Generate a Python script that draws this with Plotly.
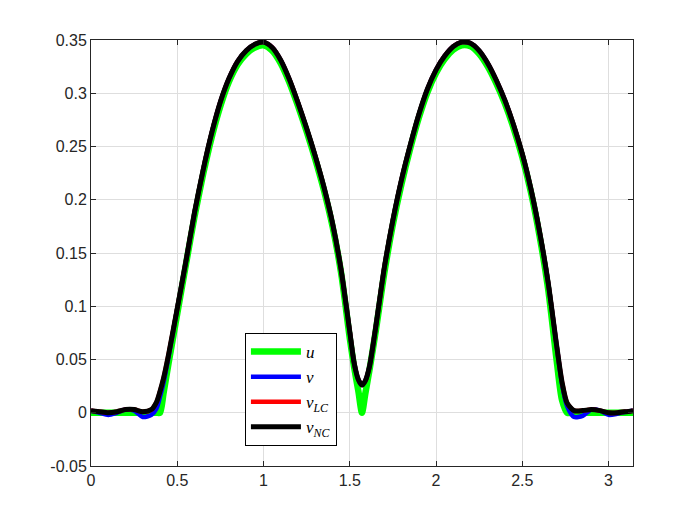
import plotly.graph_objects as go

# sample positions along x (0 .. pi)
x = [0.00, 0.05, 0.10, 0.15, 0.20, 0.25, 0.30, 0.35, 0.38, 0.40,
     0.42, 0.45, 0.50, 0.55, 0.60, 0.65, 0.70, 0.75, 0.80, 0.85,
     0.90, 0.95, 1.00, 1.05, 1.10, 1.15, 1.20, 1.25, 1.30, 1.35,
     1.40, 1.45, 1.50, 1.525, 1.55, 1.5708, 1.59, 1.615, 1.65, 1.70,
     1.75, 1.80, 1.85, 1.90, 1.95, 2.00, 2.05, 2.10, 2.15, 2.20,
     2.25, 2.30, 2.35, 2.40, 2.45, 2.50, 2.55, 2.60, 2.65, 2.70,
     2.73, 2.76, 2.80, 2.85, 2.90, 2.95, 3.00, 3.05, 3.10, 3.1416]

u = [0.000, 0.000, 0.000, 0.000, 0.000, 0.000, 0.000, 0.000, 0.000, 0.000,
     0.018, 0.047, 0.093, 0.139, 0.184, 0.224, 0.259, 0.288, 0.311, 0.327,
     0.337, 0.343, 0.345, 0.340, 0.328, 0.310, 0.288, 0.264, 0.238, 0.209,
     0.175, 0.131, 0.070, 0.043, 0.020, 0.000, 0.018, 0.041, 0.076, 0.131,
     0.177, 0.215, 0.248, 0.277, 0.301, 0.319, 0.332, 0.341, 0.345, 0.344,
     0.337, 0.325, 0.309, 0.290, 0.267, 0.240, 0.207, 0.166, 0.116, 0.048,
     0.012, 0.000, 0.000, 0.000, 0.000, 0.000, 0.000, 0.000, 0.000, 0.000]

v = [0.002, 0.000, -0.002, 0.000, 0.003, 0.002, -0.004, -0.002, 0.004, 0.015,
     0.028, 0.053, 0.098, 0.142, 0.188, 0.228, 0.263, 0.292, 0.314, 0.330,
     0.340, 0.346, 0.348, 0.343, 0.331, 0.313, 0.291, 0.267, 0.241, 0.212,
     0.178, 0.134, 0.076, 0.047, 0.031, 0.026, 0.030, 0.044, 0.080, 0.136,
     0.181, 0.219, 0.251, 0.280, 0.304, 0.322, 0.335, 0.344, 0.348, 0.347,
     0.340, 0.328, 0.312, 0.293, 0.270, 0.243, 0.210, 0.170, 0.122, 0.062,
     0.027, 0.006, -0.004, -0.003, 0.003, 0.002, -0.002, -0.001, 0.001, 0.002]

v_nc = [0.002, 0.001, 0.000, 0.001, 0.003, 0.003, 0.001, 0.003, 0.010, 0.020,
        0.032, 0.055, 0.098, 0.142, 0.188, 0.228, 0.263, 0.292, 0.314, 0.330,
        0.340, 0.346, 0.348, 0.343, 0.331, 0.313, 0.291, 0.267, 0.241, 0.212,
        0.178, 0.134, 0.076, 0.047, 0.031, 0.026, 0.030, 0.044, 0.080, 0.136,
        0.181, 0.219, 0.251, 0.280, 0.304, 0.322, 0.335, 0.344, 0.348, 0.347,
        0.340, 0.328, 0.312, 0.293, 0.270, 0.243, 0.210, 0.170, 0.122, 0.062,
        0.029, 0.009, 0.002, 0.002, 0.003, 0.002, 0.000, 0.000, 0.001, 0.002]

# the red curve sits completely under the black one in the picture
v_lc = list(v_nc)

x_ticks = [0, 0.5, 1, 1.5, 2, 2.5, 3]
x_ticktext = ['0', '0.5', '1', '1.5', '2', '2.5', '3']
y_ticks = [-0.05, 0, 0.05, 0.1, 0.15, 0.2, 0.25, 0.3, 0.35]
y_ticktext = ['-0.05', '0', '0.05', '0.1', '0.15', '0.2', '0.25', '0.3', '0.35']

series = [
    (u, '<i>u</i>', '#00ff00', 6.5),
    (v, '<i>v</i>', '#0000ff', 4.5),
    (v_lc, '<i>v</i><sub><i>LC</i></sub>', '#ff0000', 4.5),
    (v_nc, '<i>v</i><sub><i>NC</i></sub>', '#000000', 5),
]

fig = go.Figure()
for y, name, color, w in series:
    fig.add_trace(go.Scatter(x=x, y=y, mode='lines', name=name,
                             line=dict(color=color, width=w, shape='spline', smoothing=0.7)))

axis_style = dict(showgrid=True, gridcolor='#dedede', gridwidth=1,
                  showline=True, linecolor='#262626', linewidth=1, mirror='ticks',
                  ticks='inside', ticklen=5, tickcolor='#262626', zeroline=False,
                  tickfont=dict(family='Liberation Sans, Arial', size=16, color='#262626'))

# page body adds an 8px offset, so margins are shifted to land the axes box in place
fig.update_layout(
    width=700, height=525,
    margin=dict(l=83, r=75, t=32, b=67),
    plot_bgcolor='white', paper_bgcolor='white',
    xaxis=dict(range=[0, 3.14159265], tickvals=x_ticks, ticktext=x_ticktext, **axis_style),
    yaxis=dict(range=[-0.05, 0.35], tickvals=y_ticks, ticktext=y_ticktext, **axis_style),
    legend=dict(x=0.284, y=0.047, xanchor='left', yanchor='bottom',
                bgcolor='white', bordercolor='black', borderwidth=1,
                itemwidth=50, tracegroupgap=0,
                font=dict(family='Liberation Serif, serif', size=17, color='black')),
    showlegend=True,
)

fig.write_html("out.html")
